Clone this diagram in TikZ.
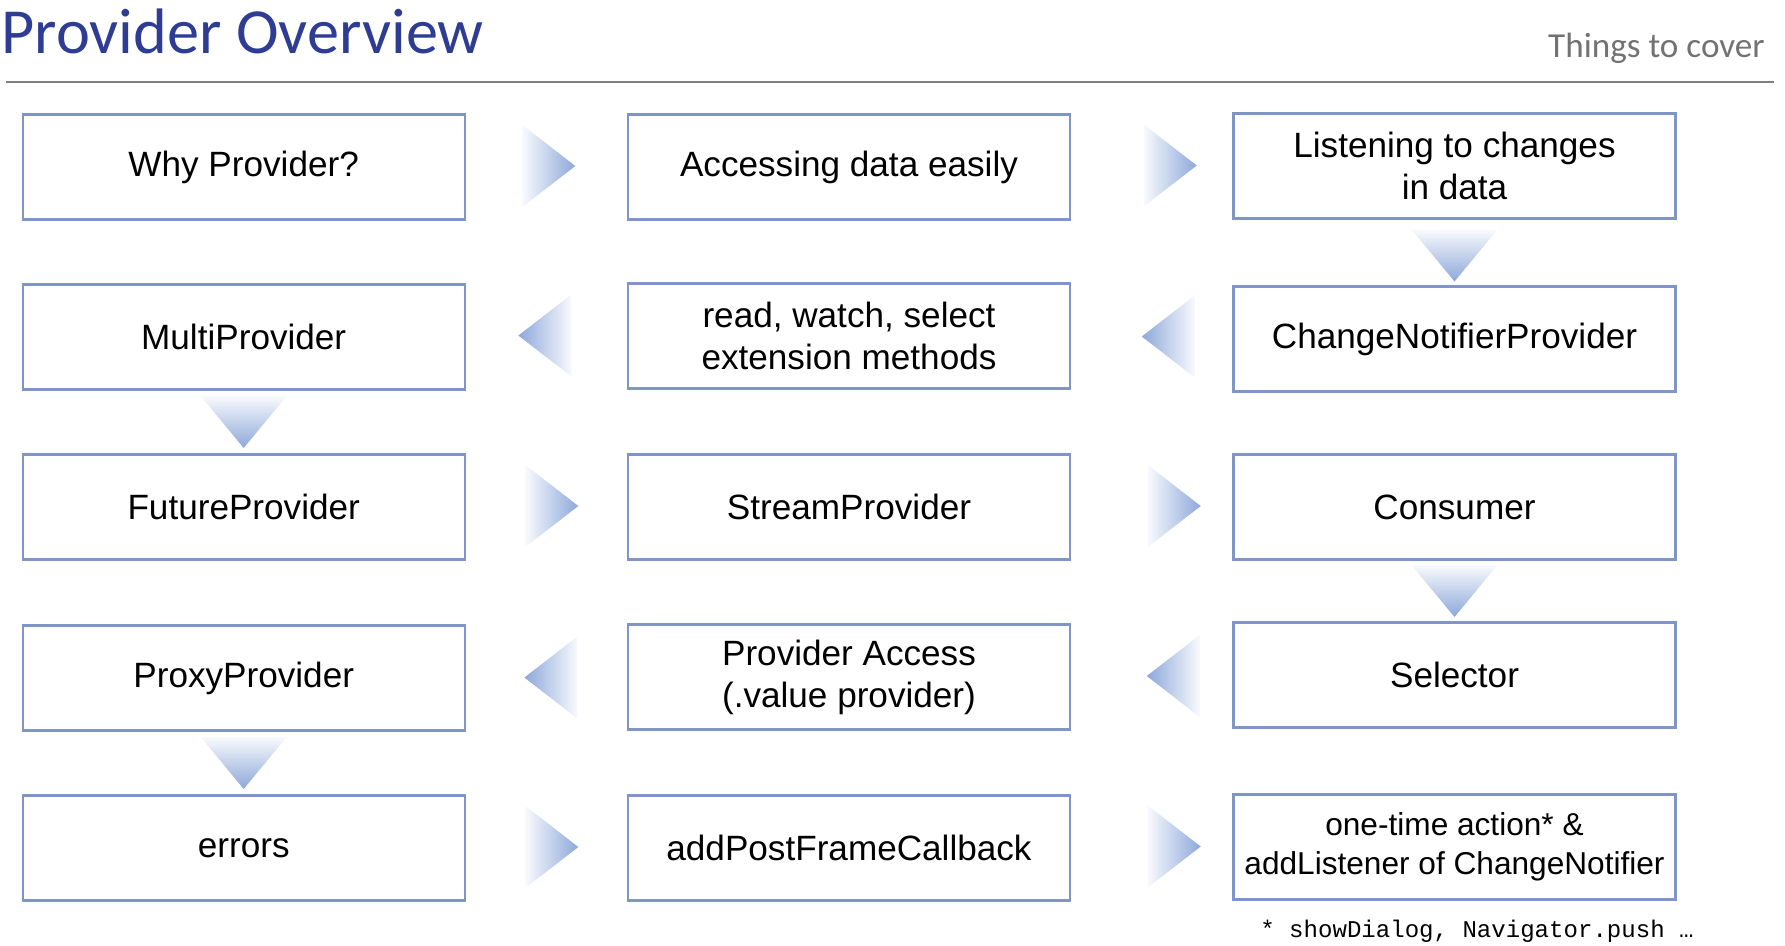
\documentclass[tikz,border=0pt]{standalone}
\usepackage{fontspec}
\setmainfont{Liberation Sans}
\newfontfamily\titlefont{Carlito}
\newfontfamily\notefont{Liberation Mono}
\usetikzlibrary{calc}
\definecolor{boxblue}{HTML}{7F95C6}
\definecolor{tipblue}{HTML}{8DA8DA}
\definecolor{titleblue}{HTML}{2E3C94}
\definecolor{rulegray}{HTML}{7F7F7F}
\def\rtri#1{\shade[left color=tipblue!6, right color=tipblue, shift={#1}] (-26,-41) -- (27,0) -- (-26,41) -- cycle;}
\def\ltri#1{\shade[left color=tipblue, right color=tipblue!6, shift={#1}] (26,-41) -- (-27,0) -- (26,41) -- cycle;}
\def\dtri#1{\shade[top color=tipblue!6, bottom color=tipblue, shift={#1}] (-43,-26) -- (43,-26) -- (0,26) -- cycle;}
\tikzset{item/.style={draw=boxblue, line width=1.3pt, fill=white, minimum width=8.84cm, minimum height=2.1cm, inner sep=0pt, align=center, font=\fontsize{20}{24}\selectfont}}

\begin{document}
\begin{tikzpicture}[x=0.02cm, y=-0.02cm]
			%%%%% START %%%%%
			\useasboundingbox (0, 0) rectangle (1785, 946);
			
			\node[anchor=base west, inner sep=0pt, text=titleblue, font=\titlefont\fontsize{36.6}{40}\selectfont] (title) at (1, 54) {Provider Overview};
			\node[anchor=base east, inner sep=0pt, text=rulegray!90!black, font=\titlefont\fontsize{20}{24}\selectfont] (cover) at (1765, 58) {Things to cover};
			\draw[line width=1.2pt, color=rulegray] (6, 82) -- (1774, 82);
			
			\node[item] (why) at (243.7, 167) {Why Provider?};
			\node[item] (access) at (849, 167) {Accessing data easily};
			\node[item] (listen) at (1454.5, 166) {Listening to changes\\in data};
			
			\node[item] (multi) at (243.7, 337) {MultiProvider};
			\node[item] (readwatch) at (849, 336) {read, watch, select\\extension methods};
			\node[item] (notifier) at (1454.5, 339) {ChangeNotifierProvider};
			
			\node[item] (future) at (243.7, 507) {FutureProvider};
			\node[item] (stream) at (849, 507) {StreamProvider};
			\node[item] (consumer) at (1454.5, 507) {Consumer};
			
			\node[item] (proxy) at (243.7, 678) {ProxyProvider};
			\node[item] (valueacc) at (849, 677) {Provider Access\\(.value provider)};
			\node[item] (selector) at (1454.5, 675) {Selector};
			
			\node[item] (errors) at (243.7, 848) {errors};
			\node[item] (postframe) at (849, 848) {addPostFrameCallback};
			\node[item, font=\fontsize{18}{22}\selectfont] (onetime) at (1454.5, 847) {one-time action* \&\\addListener of ChangeNotifier};
			
			\rtri{($(why.east)!.5!(access.west)+(2,-1)$)}
			\rtri{($(access.east)!.5!(listen.west)+(18,-1)$)}
			\dtri{($(listen.south)!.5!(notifier.north)+(0,3)$)}
			\ltri{($(readwatch.east)!.5!(notifier.west)+(17,-1)$)}
			\ltri{($(multi.east)!.5!(readwatch.west)+(-1,-1)$)}
			\dtri{($(multi.south)!.5!(future.north)$)}
			\rtri{($(future.east)!.5!(stream.west)+(5,-1)$)}
			\rtri{($(stream.east)!.5!(consumer.west)+(22,-1)$)}
			\dtri{($(consumer.south)!.5!(selector.north)$)}
			\ltri{($(valueacc.east)!.5!(selector.west)+(22,0)$)}
			\ltri{($(proxy.east)!.5!(valueacc.west)+(5,0)$)}
			\dtri{($(proxy.south)!.5!(errors.north)$)}
			\rtri{($(errors.east)!.5!(postframe.west)+(5,-1)$)}
			\rtri{($(postframe.east)!.5!(onetime.west)+(22,-1)$)}
			
			\node[inner sep=0pt, font=\notefont\fontsize{13.7}{16}\selectfont] (note) at (1477, 931) {* showDialog, Navigator.push …};
			%%%%% END %%%%%
		\end{tikzpicture}
\end{document}
